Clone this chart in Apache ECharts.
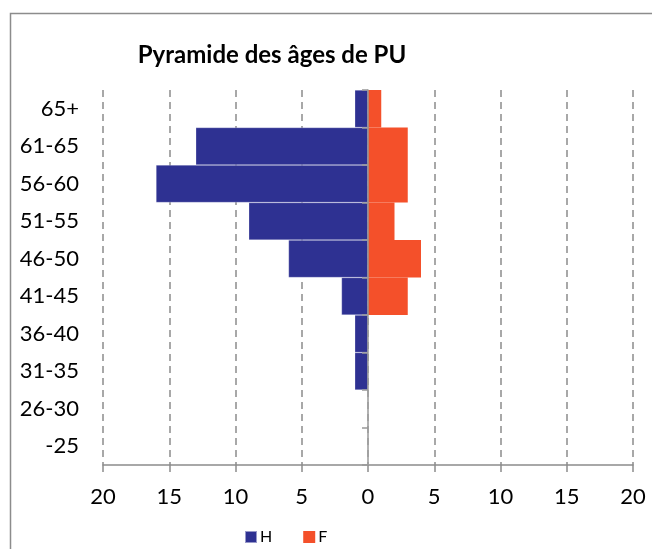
<!DOCTYPE html>
<html>
<head>
<meta charset="utf-8">
<script src="https://cdn.jsdelivr.net/npm/echarts@6/dist/echarts.min.js"></script>
<style>
  html, body { margin: 0; padding: 0; background: #fff; }
  #main { width: 652px; height: 549px; }
</style>
</head>
<body>
<div id="main"></div>
<script>
// tranches d'âge, du bas vers le haut
var ageGroups = ['-25', '26-30', '31-35', '36-40', '41-45', '46-50', '51-55', '56-60', '61-65', '65+'];
var hommes = [0, 0, 1, 1, 2, 6, 9, 16, 13, 1];
var femmes = [0, 0, 0, 0, 3, 4, 2, 3, 3, 1];
var xMin = -20, xMax = 20, xStep = 5;

var chart = echarts.init(document.getElementById('main'));
var font = 'Lato';
var grey = '#8c8c8c';

var option = {
    animation: false,
    graphic: [{
        type: 'rect',
        shape: { x: 10.5, y: 13.5, width: 700, height: 600 },
        style: { fill: null, stroke: grey, lineWidth: 1.5 },
        silent: true
    }],
    title: {
        text: 'Pyramide des âges de PU',
        left: 267,
        top: 38,
        textAlign: 'center',
        textStyle: { fontFamily: font, fontSize: 24, fontWeight: 'bold', color: '#000' }
    },
    legend: {
        data: ['H', 'F'],
        left: 239,
        top: 524,
        icon: 'rect',
        itemWidth: 12,
        itemHeight: 12,
        itemGap: 31,
        textStyle: { fontFamily: font, fontSize: 16, color: '#000', padding: [0, 0, 0, -2] }
    },
    grid: { left: 103, right: 19, top: 90, bottom: 84 },
    xAxis: {
        type: 'value',
        min: xMin,
        max: xMax,
        interval: xStep,
        axisLine: { show: true, onZero: false, lineStyle: { color: grey, width: 1.5 } },
        axisTick: { show: true, length: 7, lineStyle: { color: grey, width: 1.5 } },
        axisLabel: {
            formatter: function (v) { return Math.abs(v); },
            fontFamily: font, fontSize: 22, color: '#000', margin: 21
        },
        splitLine: { show: true, lineStyle: { type: [7, 5], color: grey, width: 1.5 } }
    },
    yAxis: [{
        type: 'category',
        data: ageGroups,
        position: 'left',
        axisLine: { show: false, onZero: false },
        axisTick: { show: false },
        axisLabel: { fontFamily: font, fontSize: 22, color: '#000', margin: 24 }
    }, {
        // axe vertical sur le zéro, dessiné par-dessus les barres
        type: 'category',
        data: ageGroups,
        position: 'left',
        zlevel: 1,
        z: 10,
        axisLine: { show: true, onZero: true, lineStyle: { color: '#999999', width: 1.5 } },
        axisTick: { show: true, length: 6, lineStyle: { color: '#999999', width: 1.5 } },
        axisLabel: { show: false }
    }],
    series: [{
        name: 'H',
        type: 'bar',
        yAxisIndex: 0,
        barCategoryGap: '0%',
        barGap: '-100%',
        itemStyle: { color: '#2E3192', borderColor: 'rgba(255,255,255,0.5)', borderWidth: 0.5 },
        data: hommes.map(function (v) { return -v; })
    }, {
        name: 'F',
        type: 'bar',
        yAxisIndex: 0,
        barCategoryGap: '0%',
        barGap: '-100%',
        itemStyle: { color: '#F4502A' },
        data: femmes
    }]
};
chart.setOption(option);
</script>
</body>
</html>
